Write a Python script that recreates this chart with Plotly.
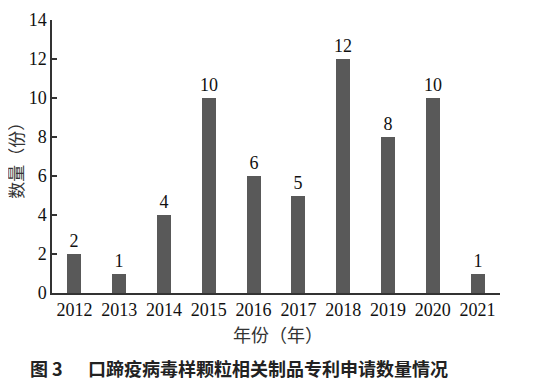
import plotly.graph_objects as go

years = ["2012", "2013", "2014", "2015", "2016", "2017", "2018", "2019", "2020", "2021"]
counts = [2, 1, 4, 10, 6, 5, 12, 8, 10, 1]
y_ticks = [0, 2, 4, 6, 8, 10, 12, 14]

serif = "Liberation Serif, Times New Roman, serif"
cjk = "Liberation Serif, Noto Sans CJK SC, serif"

# page body has an 8px margin, so the figure sits at (8, 8)
OFF = 8
W, H = 535 - OFF, 391 - OFF
L, R, T, B = 52 - OFF, 35, 20 - OFF, 97.5
pw = W - L - R
ph = H - T - B

def px(x):
    return (x - OFF - L) / pw

def py(y):
    return (H - B - (y - OFF)) / ph

fig = go.Figure(
    go.Bar(
        x=list(range(len(years))),
        y=counts,
        width=0.31,
        marker=dict(color="#595959", line=dict(width=0)),
        text=[str(v) for v in counts],
        textposition="outside",
        constraintext="none",
        textfont=dict(family=serif, size=18, color="#111111"),
        cliponaxis=False,
    )
)

fig.update_layout(
    width=W,
    height=H,
    margin=dict(l=L, r=R, t=T, b=B, autoexpand=False),
    paper_bgcolor="white",
    plot_bgcolor="white",
    showlegend=False,
    bargap=0,
)

fig.update_xaxes(
    range=[-0.5, 9.5],
    tickmode="array",
    tickvals=list(range(len(years))),
    ticktext=years,
    showline=True,
    linecolor="#333333",
    linewidth=1.5,
    ticks="",
    showgrid=False,
    zeroline=False,
    tickfont=dict(family=serif, size=18, color="#111111"),
)

fig.update_yaxes(
    range=[0, 14],
    tickmode="array",
    tickvals=y_ticks,
    ticktext=[str(v) for v in y_ticks],
    showline=True,
    linecolor="#333333",
    linewidth=1.5,
    ticks="inside",
    ticklen=5,
    tickwidth=1.5,
    tickcolor="#333333",
    showgrid=False,
    zeroline=False,
    tickfont=dict(family=serif, size=18, color="#111111"),
)

fig.add_annotation(
    text="数量（份）", textangle=-90,
    xref="paper", yref="paper", x=px(18), y=py(157),
    xanchor="center", yanchor="middle", showarrow=False,
    font=dict(family=cjk, size=17, color="#333333"),
)
fig.add_annotation(
    text="年份（年）",
    xref="paper", yref="paper", x=px(278), y=py(337),
    xanchor="center", yanchor="middle", showarrow=False,
    font=dict(family=cjk, size=18, color="#333333"),
)
fig.add_annotation(
    text="<b>图 3</b>",
    xref="paper", yref="paper", x=px(28), y=py(369),
    xanchor="left", yanchor="middle", showarrow=False,
    font=dict(family="Noto Sans CJK SC", size=18, color="#222222"),
)
fig.add_annotation(
    text="<b>口蹄疫病毒样颗粒相关制品专利申请数量情况</b>",
    xref="paper", yref="paper", x=px(86), y=py(369),
    xanchor="left", yanchor="middle", showarrow=False,
    font=dict(family="Noto Sans CJK SC", size=18, color="#222222"),
)

fig.write_html("out.html")
